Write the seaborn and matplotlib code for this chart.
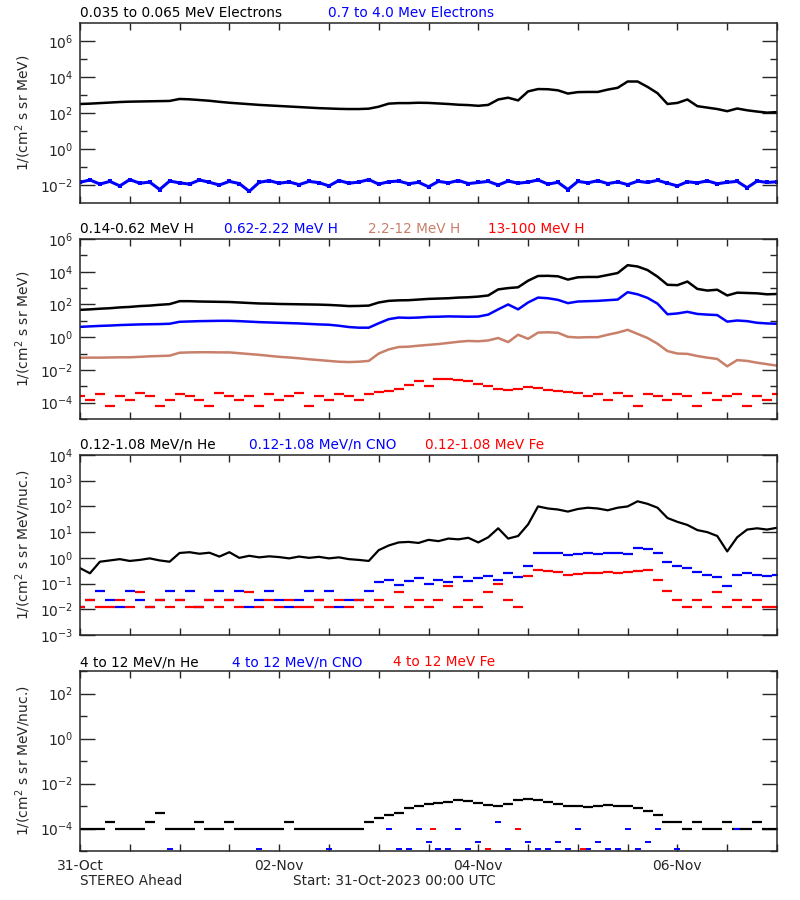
import numpy as np
import seaborn as sns
import matplotlib.pyplot as plt
from matplotlib.ticker import FixedLocator, NullFormatter

sns.set_style("ticks")
plt.rcParams['font.family'] = ['DejaVu Sans']

# days since 31-Oct-2023 00:00, sampled every 0.1 day
days = np.round(np.arange(0, 7.01, 0.1), 1)

# all values are log10 of the flux
# panel 1: electrons
e_low = [2.50, 2.52, 2.55, 2.58, 2.61, 2.63, 2.64, 2.65, 2.66, 2.67,
         2.78, 2.76, 2.72, 2.68, 2.62, 2.57, 2.53, 2.49, 2.45, 2.42,
         2.39, 2.36, 2.33, 2.30, 2.27, 2.25, 2.23, 2.22, 2.22, 2.24,
         2.35, 2.52, 2.55, 2.55, 2.57, 2.56, 2.53, 2.50, 2.46, 2.44,
         2.40, 2.45, 2.75, 2.85, 2.70, 3.20, 3.33, 3.32, 3.26, 3.08,
         3.16, 3.17, 3.17, 3.30, 3.40, 3.75, 3.75, 3.45, 3.10, 2.50,
         2.56, 2.75, 2.38, 2.30, 2.22, 2.10, 2.25, 2.15, 2.08, 2.02,
         2.05]
e_high = [-1.85, -1.72, -1.95, -1.80, -2.05, -1.70, -1.90, -1.84, -2.25, -1.78,
          -1.88, -1.95, -1.72, -1.85, -2.00, -1.80, -1.92, -2.35, -1.85, -1.76,
          -1.90, -1.83, -1.98, -1.80, -1.87, -2.05, -1.75, -1.90, -1.84, -1.70,
          -1.95, -1.82, -1.78, -1.93, -1.85, -2.10, -1.80, -1.88, -1.75, -1.92,
          -1.86, -1.80, -2.00, -1.78, -1.90, -1.84, -1.72, -1.95, -1.85, -2.25,
          -1.80, -1.88, -1.76, -1.92, -1.83, -1.98, -1.79, -1.86, -1.74, -1.90,
          -2.05, -1.82, -1.88, -1.77, -1.93, -1.85, -1.80, -2.15, -1.78, -1.86,
          -1.82]

# panel 2: protons
h1 = [1.67, 1.70, 1.74, 1.77, 1.82, 1.85, 1.90, 1.93, 1.98, 2.02,
      2.20, 2.20, 2.18, 2.17, 2.16, 2.15, 2.12, 2.09, 2.06, 2.05,
      2.03, 2.02, 2.01, 2.00, 1.99, 1.97, 1.94, 1.90, 1.91, 1.93,
      2.12, 2.22, 2.25, 2.26, 2.30, 2.34, 2.36, 2.38, 2.42, 2.44,
      2.48, 2.55, 2.92, 3.00, 3.05, 3.45, 3.74, 3.75, 3.72, 3.52,
      3.66, 3.68, 3.68, 3.80, 3.92, 4.40, 4.32, 4.10, 3.70, 3.20,
      3.18, 3.40, 2.95, 2.85, 2.90, 2.55, 2.72, 2.70, 2.68, 2.62,
      2.64]
h2 = [0.63, 0.66, 0.69, 0.71, 0.74, 0.76, 0.78, 0.79, 0.80, 0.82,
      0.94, 0.96, 0.98, 0.99, 1.00, 1.00, 0.98, 0.95, 0.92, 0.90,
      0.88, 0.86, 0.84, 0.81, 0.78, 0.76, 0.70, 0.62, 0.58, 0.58,
      0.85, 1.10, 1.20, 1.18, 1.20, 1.24, 1.25, 1.27, 1.26, 1.25,
      1.26, 1.38, 1.70, 2.00, 1.70, 2.12, 2.42, 2.38, 2.28, 2.08,
      2.18, 2.20, 2.22, 2.26, 2.30, 2.75, 2.62, 2.40, 2.05, 1.40,
      1.45, 1.55, 1.42, 1.38, 1.35, 0.95, 1.02, 0.98, 0.88, 0.84,
      0.82]
h3 = [-1.26, -1.25, -1.25, -1.24, -1.23, -1.23, -1.20, -1.17, -1.15, -1.13,
      -0.95, -0.93, -0.92, -0.92, -0.93, -0.93, -0.98, -1.03, -1.08, -1.14,
      -1.20, -1.24, -1.29, -1.35, -1.40, -1.45, -1.50, -1.52, -1.50, -1.45,
      -1.00, -0.75, -0.60, -0.58, -0.52, -0.47, -0.42, -0.35, -0.28, -0.23,
      -0.25, -0.20, -0.05, -0.30, 0.15, -0.10, 0.28, 0.30, 0.27, 0.02,
      -0.02, 0.00, 0.00, 0.15, 0.28, 0.45, 0.20, -0.05, -0.40, -0.85,
      -1.00, -1.02, -1.15, -1.25, -1.33, -1.78, -1.40, -1.45, -1.56, -1.65,
      -1.74]
h4 = [-3.60, -3.85, -3.45, -4.20, -3.60, -3.85, -3.40, -3.60, -4.20, -3.85,
      -3.45, -3.60, -3.85, -4.20, -3.40, -3.60, -3.85, -3.60, -4.20, -3.45,
      -3.85, -3.60, -3.40, -4.20, -3.60, -3.85, -3.45, -3.60, -3.85, -3.45,
      -3.35, -3.30, -3.15, -2.95, -2.70, -3.00, -2.55, -2.55, -2.60, -2.70,
      -2.85, -3.00, -3.15, -3.25, -3.15, -3.05, -3.10, -3.20, -3.30, -3.35,
      -3.40, -3.60, -3.45, -3.85, -3.40, -3.60, -4.20, -3.45, -3.60, -3.85,
      -3.45, -3.60, -4.20, -3.40, -3.85, -3.60, -3.45, -4.20, -3.60, -3.85,
      -3.45]

# panel 3: low energy ions
he_low = [-0.40, -0.60, -0.15, -0.10, -0.05, -0.12, -0.08, -0.02, -0.10, -0.15,
          0.19, 0.22, 0.16, 0.20, 0.05, 0.22, 0.00, 0.08, 0.02, 0.06,
          0.03, -0.02, 0.05, 0.00, 0.04, -0.02, 0.02, -0.05, -0.08, -0.12,
          0.30, 0.48, 0.60, 0.62, 0.58, 0.70, 0.65, 0.75, 0.72, 0.78,
          0.60, 0.80, 1.15, 0.75, 0.85, 1.30, 2.00, 1.92, 1.88, 1.80,
          1.90, 1.95, 1.92, 1.85, 1.95, 2.00, 2.20, 2.10, 1.95, 1.55,
          1.40, 1.28, 1.08, 1.00, 0.85, 0.25, 0.80, 1.10, 1.15, 1.10,
          1.17]
cno_low = [-1.93, -1.62, -1.30, -1.62, -1.93, -1.30, -1.62, -1.93, -1.62, -1.30,
           -1.62, -1.30, -1.93, -1.62, -1.30, -1.62, -1.30, -1.93, -1.62, -1.30,
           -1.62, -1.93, -1.62, -1.30, -1.62, -1.30, -1.93, -1.62, -1.62, -1.30,
           -0.95, -0.85, -1.05, -0.90, -0.80, -1.00, -0.85, -0.95, -0.75, -0.90,
           -0.80, -0.70, -0.85, -0.60, -0.75, -0.30, 0.20, 0.18, 0.20, 0.10,
           0.15, 0.18, 0.15, 0.20, 0.18, 0.15, 0.40, 0.35, 0.20, -0.15,
           -0.30, -0.40, -0.55, -0.65, -0.75, -1.10, -0.65, -0.60, -0.65, -0.70,
           -0.65]
fe_low = [-1.93, -1.62, -1.93, -1.93, -1.62, -1.93, -1.33, -1.93, -1.62, -1.93,
          -1.62, -1.93, -1.93, -1.62, -1.93, -1.62, -1.93, -1.33, -1.93, -1.62,
          -1.93, -1.62, -1.93, -1.93, -1.62, -1.93, -1.62, -1.93, -1.62, -1.93,
          -1.62, -1.93, -1.33, -1.93, -1.62, -1.93, -1.62, -1.10, -1.93, -1.62,
          -1.93, -1.33, -1.00, -1.62, -1.93, -0.70, -0.47, -0.50, -0.55, -0.65,
          -0.62, -0.58, -0.60, -0.55, -0.58, -0.55, -0.50, -0.47, -0.85, -1.30,
          -1.62, -1.93, -1.62, -1.93, -1.33, -1.93, -1.62, -1.93, -1.62, -1.93,
          -1.93]

# panel 4: high energy ions
he_high = [-4.0, -4.0, -4.0, -3.7, -4.0, -4.0, -4.0, -3.7, -3.33, -4.0,
           -4.0, -4.0, -3.7, -4.0, -4.0, -3.7, -4.0, -4.0, -4.0, -4.0,
           -4.0, -3.7, -4.0, -4.0, -4.0, -4.0, -4.0, -4.0, -4.0, -3.7,
           -3.55, -3.40, -3.30, -3.10, -3.00, -2.90, -2.85, -2.80, -2.75, -2.78,
           -2.85, -2.95, -3.00, -2.90, -2.75, -2.70, -2.72, -2.80, -2.90, -2.98,
           -3.00, -3.05, -3.00, -2.95, -3.00, -2.98, -3.10, -3.20, -3.40, -3.70,
           -3.70, -4.00, -3.70, -4.00, -4.00, -3.70, -4.00, -4.00, -3.70, -4.00,
           -4.00]
nan = np.nan
cno_high = [nan, nan, nan, nan, nan, nan, nan, nan, nan, -4.93,
            nan, nan, nan, nan, nan, nan, nan, nan, -4.93, nan,
            nan, nan, nan, nan, nan, -4.93, nan, nan, nan, nan,
            nan, -4.00, -4.93, -4.93, -4.00, -4.62, -4.93, -4.93, -4.00, -4.93,
            -4.62, -4.93, -3.70, -4.93, -4.00, -4.62, -4.93, -4.93, -4.62, -4.93,
            -4.00, -4.93, -4.62, -4.93, -4.93, -4.00, -4.93, -4.62, -4.00, nan,
            -4.93, nan, nan, nan, nan, nan, -4.00, nan, nan, nan,
            nan]
fe_high_t = [3.55, 4.1, 4.4, 5.05]
fe_high = [-4.0, -4.93, -4.0, -4.93]

BROWN = '#c8806a'
BLUE = '#0000ff'
RED = '#ff0000'

fig = plt.figure(figsize=(8, 9), dpi=100)


def panel(top, bottom):
    return fig.add_axes([80 / 800, 1 - bottom / 900, 697 / 800, (bottom - top) / 900])


def style(ax, lo, hi, majors, minors, ylabel):
    ax.set_yscale('log')
    ax.set_ylim(10.0 ** lo, 10.0 ** hi)
    ax.set_xlim(0, 7)
    ax.yaxis.set_major_locator(FixedLocator([10.0 ** m for m in majors]))
    ax.yaxis.set_minor_locator(FixedLocator([10.0 ** m for m in minors]))
    ax.yaxis.set_minor_formatter(NullFormatter())
    ax.set_xticks(np.arange(0, 7.01, 0.5))
    ax.set_xticklabels([])
    ax.tick_params(axis='both', which='both', direction='in', top=True, right=True,
                   labelsize=10, width=1)
    ax.tick_params(axis='y', which='major', length=10.5, pad=5)
    ax.tick_params(axis='y', which='minor', length=5)
    ax.tick_params(axis='x', length=5)
    for s in ax.spines.values():
        s.set_linewidth(1.1)
    ax.set_ylabel(ylabel, fontsize=10)
    ax.yaxis.set_label_coords(-0.067, 0.5)
    ax.set_xlabel('')


def line(ax, vals, color, lw=1.8, x=days):
    sns.lineplot(x=x, y=10.0 ** np.array(vals), color=color, linewidth=lw, ax=ax)


def dots(ax, vals, color, marker='_', s=60, lw=1.6, x=days):
    sns.scatterplot(x=x, y=10.0 ** np.array(vals), color=color, marker=marker, s=s,
                    linewidth=lw, ax=ax)


def title(y, parts):
    for x, txt, c in parts:
        fig.text(x / 800, 1 - y / 900, txt, color=c, fontsize=9.8, va='center', ha='left')


# panel 1
ax1 = panel(23, 203)
line(ax1, e_low, 'black')
line(ax1, e_high, BLUE, lw=2.2)
dots(ax1, e_high, BLUE, marker='s', s=8, lw=0)
style(ax1, -3, 7, [-2, 0, 2, 4, 6], [-1, 1, 3, 5], r'1/(cm$^2$ s sr MeV)')
title(13, [(80, '0.035 to 0.065 MeV Electrons', 'black'),
           (328, '0.7 to 4.0 Mev Electrons', BLUE)])

# panel 2
ax2 = panel(239, 419)
line(ax2, h1, 'black')
line(ax2, h2, BLUE)
line(ax2, h3, BROWN)
dots(ax2, h4, RED)
style(ax2, -5, 6, [-4, -2, 0, 2, 4, 6], [-5, -3, -1, 1, 3, 5], r'1/(cm$^2$ s sr MeV)')
title(229, [(80, '0.14-0.62 MeV H', 'black'), (224, '0.62-2.22 MeV H', BLUE),
            (368, '2.2-12 MeV H', BROWN), (488, '13-100 MeV H', RED)])

# panel 3
ax3 = panel(455, 635)
line(ax3, he_low, 'black', lw=1.6)
dots(ax3, cno_low, BLUE)
dots(ax3, fe_low, RED)
style(ax3, -3, 4, [-3, -2, -1, 0, 1, 2, 3, 4], [], r'1/(cm$^2$ s sr MeV/nuc.)')
title(445, [(80, '0.12-1.08 MeV/n He', 'black'), (249, '0.12-1.08 MeV/n CNO', BLUE),
            (425, '0.12-1.08 MeV Fe', RED)])

# panel 4
ax4 = panel(671, 851)
dots(ax4, he_high, 'black')
dots(ax4, cno_high, BLUE, s=20, lw=1.4)
dots(ax4, fe_high, RED, s=20, lw=1.4, x=fe_high_t)
style(ax4, -5, 3, [-4, -2, 0, 2], [-5, -3, -1, 1, 3], r'1/(cm$^2$ s sr MeV/nuc.)')
labels = {0: '31-Oct', 2: '02-Nov', 4: '04-Nov', 6: '06-Nov'}
ax4.set_xticklabels([labels.get(v, '') if v == int(v) else '' for v in np.arange(0, 7.01, 0.5)])
ax4.tick_params(axis='x', labelsize=10, pad=6)
title(662, [(80, '4 to 12 MeV/n He', 'black'), (232, '4 to 12 MeV/n CNO', BLUE),
            (393, '4 to 12 MeV Fe', RED)])

fig.text(80 / 800, 1 - 881 / 900, 'STEREO Ahead', fontsize=9.8, va='center')
fig.text(293 / 800, 1 - 881 / 900, 'Start: 31-Oct-2023 00:00 UTC', fontsize=9.8, va='center')

fig.savefig('out.png', dpi=100)
